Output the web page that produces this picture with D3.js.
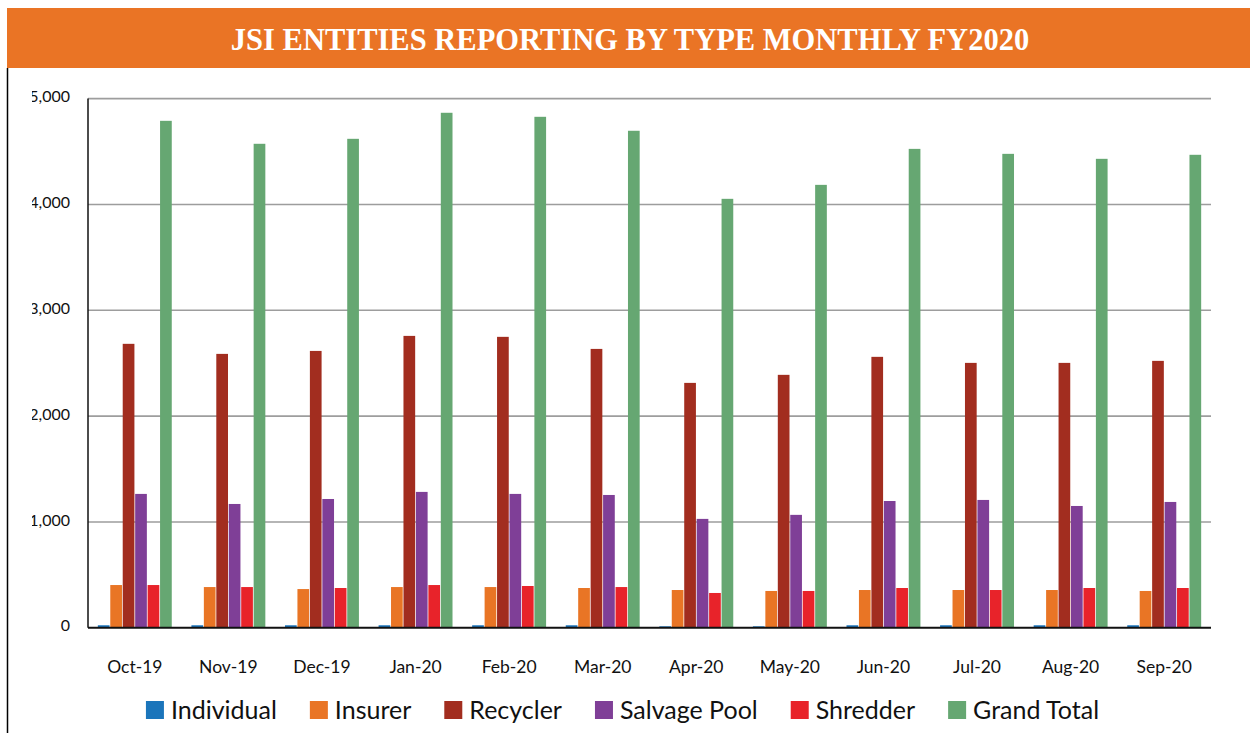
<!DOCTYPE html>
<html>
<head>
<meta charset="utf-8">
<script src="https://cdnjs.cloudflare.com/ajax/libs/d3/7.8.5/d3.min.js"></script>
<style>
  html, body { margin: 0; padding: 0; background: #fff; }
  svg { display: block; }
</style>
</head>
<body>
<div class="canvas"></div>
<script>
// data
const months = ['Oct-19', 'Nov-19', 'Dec-19', 'Jan-20', 'Feb-20', 'Mar-20',
    'Apr-20', 'May-20', 'Jun-20', 'Jul-20', 'Aug-20', 'Sep-20'];
const seriesNames = ['Individual', 'Insurer', 'Recycler', 'Salvage Pool', 'Shredder', 'Grand Total'];
const individual = [24, 24, 24, 24, 24, 24, 14, 14, 24, 24, 24, 24];
const insurer = [404, 385, 366, 385, 385, 376, 357, 348, 357, 357, 357, 348];
const recycler = [2683, 2588, 2616, 2758, 2749, 2635, 2314, 2390, 2560, 2503, 2503, 2522];
const salvagePool = [1265, 1170, 1217, 1284, 1265, 1255, 1029, 1067, 1198, 1208, 1151, 1189];
const shredder = [404, 385, 376, 404, 395, 385, 329, 348, 376, 357, 376, 376];
const grandTotal = [4790, 4573, 4620, 4866, 4828, 4696, 4053, 4185, 4525, 4478, 4431, 4469];
const yTicks = [0, 1000, 2000, 3000, 4000, 5000];
const title = 'JSI ENTITIES REPORTING BY TYPE MONTHLY FY2020';

const seriesValues = [individual, insurer, recycler, salvagePool, shredder, grandTotal];
const data = months.map((m, i) => ({
    month: m,
    values: seriesNames.map((s, j) => ({ series: s, value: seriesValues[j][i] }))
}));

const dimensions = { width: 1250, height: 733 };
const plot = { left: 88, right: 1211, top: 98.6, bottom: 627.8 };

const colour = d3.scaleOrdinal()
    .domain(seriesNames)
    .range(['#1b75bb', '#e97525', '#a22d1f', '#7f3f97', '#e8232a', '#66a772']);

const svg = d3.select('.canvas')
    .append('svg')
    .attr('width', dimensions.width)
    .attr('height', dimensions.height);

// header band
svg.append('rect')
    .attr('x', 7)
    .attr('y', 8)
    .attr('width', dimensions.width - 7)
    .attr('height', 60)
    .attr('fill', '#ea7425');

svg.append('text')
    .attr('x', 630)
    .attr('y', 50)
    .attr('text-anchor', 'middle')
    .attr('fill', '#fff')
    .style('font-family', '"Liberation Serif", serif')
    .style('font-weight', 'bold')
    .style('font-size', '30.5px')
    .text(title);

// left border
svg.append('line')
    .attr('x1', 7.5).attr('x2', 7.5)
    .attr('y1', 68).attr('y2', dimensions.height)
    .attr('stroke', '#000')
    .attr('stroke-width', 1.5);

// scales
const y = d3.scaleLinear()
    .domain([0, 5000])
    .range([plot.bottom, plot.top]);

const x0 = d3.scaleBand()
    .domain(months)
    .range([plot.left, plot.right])
    .paddingInner(0.21)
    .paddingOuter(0.105);

const x1 = d3.scaleBand()
    .domain(seriesNames)
    .range([0, x0.bandwidth()])
    .paddingInner(0.06);

// gridlines
svg.append('g')
    .selectAll('line')
    .data(yTicks.filter(t => t > 0))
    .enter()
    .append('line')
    .attr('x1', plot.left)
    .attr('x2', plot.right)
    .attr('y1', d => y(d))
    .attr('y2', d => y(d))
    .attr('stroke', '#9d9d9d')
    .attr('stroke-width', 1.6);

// y tick labels (left edge clipped like the original)
svg.append('clipPath')
    .attr('id', 'labelClip')
    .append('rect')
    .attr('x', 32).attr('y', 70)
    .attr('width', 60).attr('height', 600);

svg.append('g')
    .attr('clip-path', 'url(#labelClip)')
    .selectAll('text')
    .data(yTicks)
    .enter()
    .append('text')
    .attr('x', 70)
    .attr('y', d => y(d) - 2)
    .attr('dy', '0.35em')
    .attr('text-anchor', 'end')
    .attr('fill', '#111')
    .style('font-family', 'Lato, sans-serif')
    .style('font-size', '16px')
    .text(d => d3.format(',')(d));

// bars
const groups = svg.append('g')
    .selectAll('.group')
    .data(data)
    .enter()
    .append('g')
    .attr('class', 'group')
    .attr('transform', d => `translate(${x0(d.month)}, 0)`);

groups.selectAll('rect')
    .data(d => d.values)
    .enter()
    .append('rect')
    .attr('x', d => x1(d.series))
    .attr('y', d => y(d.value))
    .attr('width', x1.bandwidth())
    .attr('height', d => y(0) - y(d.value))
    .attr('fill', d => colour(d.series));

// axes lines
svg.append('line')
    .attr('x1', plot.left).attr('x2', plot.right)
    .attr('y1', y(0)).attr('y2', y(0))
    .attr('stroke', '#111')
    .attr('stroke-width', 2);

svg.append('line')
    .attr('x1', plot.left).attr('x2', plot.left)
    .attr('y1', plot.top).attr('y2', y(0))
    .attr('stroke', '#111')
    .attr('stroke-width', 1.5);

// month labels
svg.append('g')
    .selectAll('text')
    .data(months)
    .enter()
    .append('text')
    .attr('x', d => x0(d) + x0.bandwidth() / 2)
    .attr('y', 673)
    .attr('text-anchor', 'middle')
    .attr('fill', '#111')
    .style('font-family', 'Lato, sans-serif')
    .style('font-size', '17.5px')
    .text(d => d);

// legend
const legend = svg.append('g');
const items = legend.selectAll('.item')
    .data(seriesNames)
    .enter()
    .append('g')
    .attr('class', 'item');

items.append('rect')
    .attr('y', 701)
    .attr('width', 18)
    .attr('height', 18)
    .attr('fill', d => colour(d));

items.append('text')
    .attr('x', 25)
    .attr('y', 719)
    .attr('fill', '#111')
    .style('font-family', 'Lato, sans-serif')
    .style('font-size', '25px')
    .text(d => d);

let offset = 0;
const offsets = [];
items.each(function () {
    offsets.push(offset);
    const w = d3.select(this).select('text').node().getComputedTextLength();
    offset += 25 + w + 33;
});
const total = offset - 33;
const start = 622.5 - total / 2;
items.attr('transform', (d, i) => `translate(${start + offsets[i]}, 0)`);
</script>
</body>
</html>
